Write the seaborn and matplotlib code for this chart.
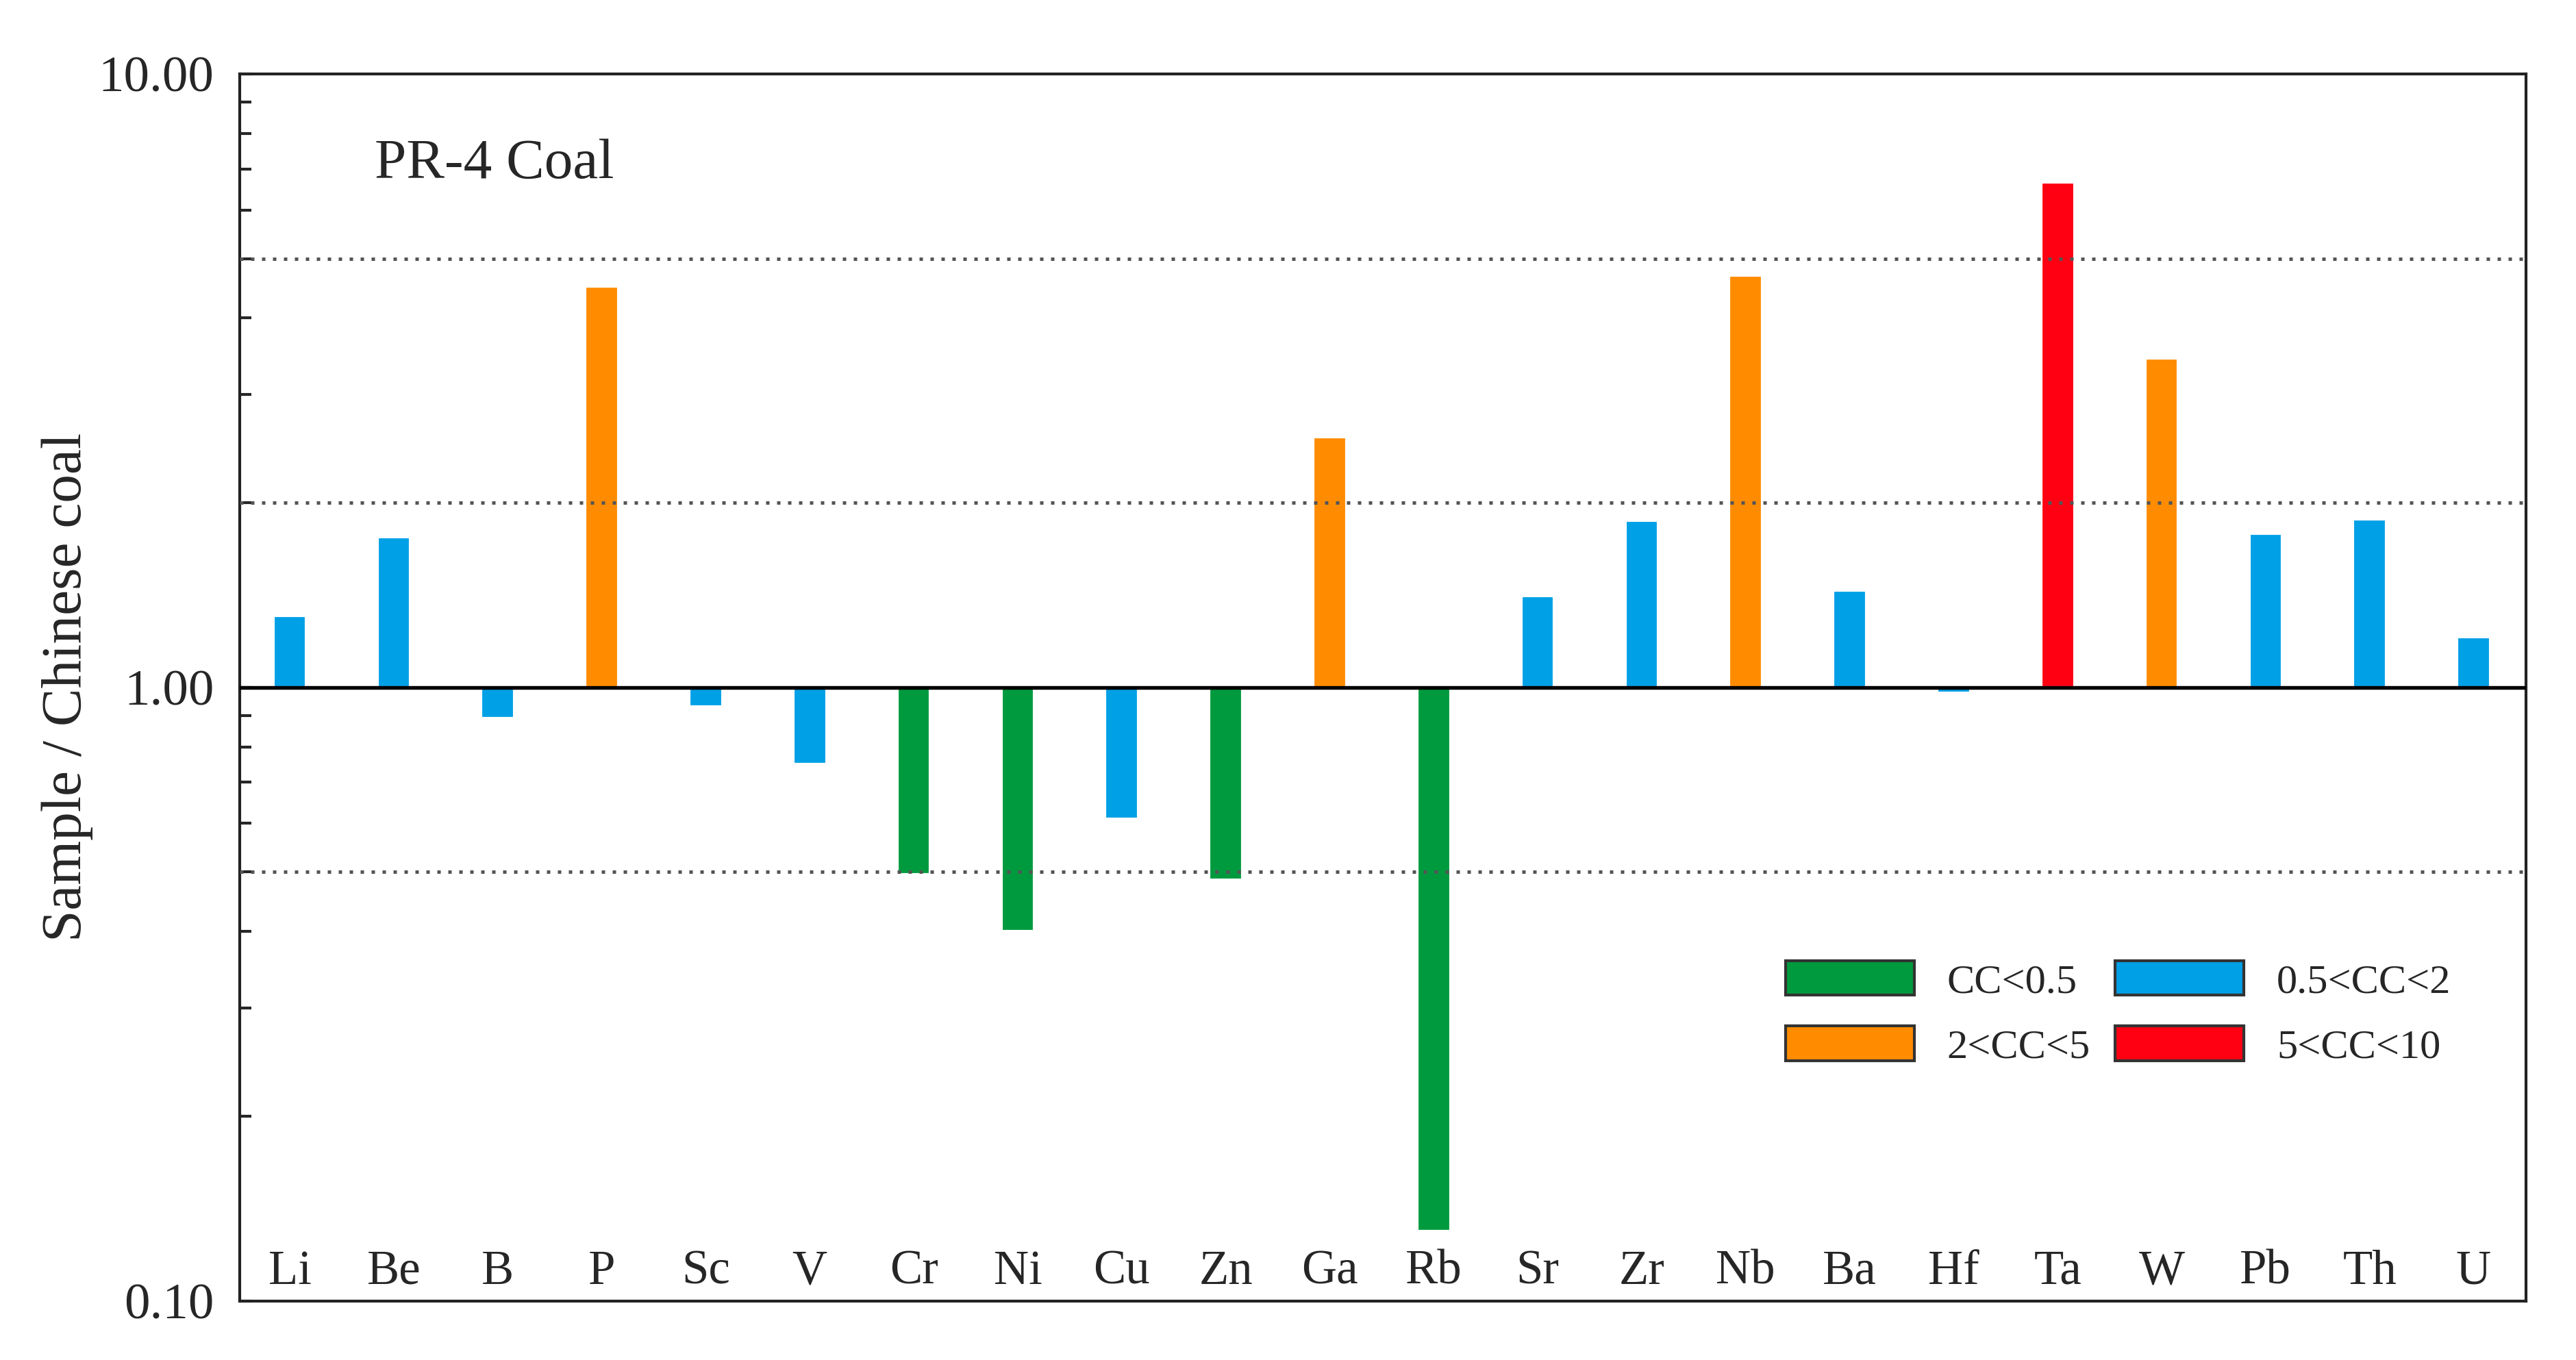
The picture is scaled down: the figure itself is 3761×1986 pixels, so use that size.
import numpy as np
import pandas as pd
import matplotlib
matplotlib.use("Agg")
import matplotlib.pyplot as plt
from matplotlib.patches import Patch
import seaborn as sns

# element / ratio (sample / Chinese coal)
elements = ['Li', 'Be', 'B', 'P', 'Sc', 'V', 'Cr', 'Ni', 'Cu', 'Zn', 'Ga',
            'Rb', 'Sr', 'Zr', 'Nb', 'Ba', 'Hf', 'Ta', 'W', 'Pb', 'Th', 'U']
ratios = [1.31, 1.76, 0.89, 4.51, 0.93, 0.75, 0.495, 0.40, 0.61, 0.485, 2.56,
          0.13, 1.41, 1.87, 4.69, 1.44, 0.98, 6.66, 3.44, 1.78, 1.88, 1.21]

class_labels = ['CC<0.5', '0.5<CC<2', '2<CC<5', '5<CC<10']
class_colors = ['#009A3E', '#00A0E6', '#FF8C00', '#FF0013']


def classify(v):
    if v < 0.5:
        return class_labels[0]
    elif v < 2:
        return class_labels[1]
    elif v < 5:
        return class_labels[2]
    return class_labels[3]


df = pd.DataFrame({'Element': elements, 'Ratio': ratios})
df['Class'] = df['Ratio'].apply(classify)
df['LogRatio'] = np.log10(df['Ratio'])  # bars hang from 1.00 on a log axis

sns.set_style('white')
plt.rcParams['font.family'] = ['Liberation Serif', 'DejaVu Serif']

fig = plt.figure(figsize=(12.54, 6.62), dpi=300)
ax = fig.add_axes([0.0931, 0.0435, 0.8871, 0.9022])

palette = dict(zip(class_labels, class_colors))
sns.barplot(data=df, x='Element', y='LogRatio', hue='Class', order=elements,
            hue_order=class_labels, palette=palette, dodge=False, width=0.32,
            saturation=1, legend=False, ax=ax, zorder=2)

# reference lines
ax.axhline(0, color='black', lw=1.3, zorder=3)
for lvl in [5, 2, 0.5]:
    ax.axhline(np.log10(lvl), color='#555555', lw=1.2, ls=(0, (1, 2.2)), zorder=4)

ax.set_ylim(-1, 1)
ax.set_xlim(-0.48, len(elements) - 0.5)

ax.set_yticks([-1, 0, 1])
ax.set_yticklabels(['0.10', '1.00', '10.00'], fontsize=18)
minor = [np.log10(m * d) for d in [0.1, 1] for m in range(2, 10)]
ax.set_yticks(minor, minor=True)
ax.tick_params(axis='y', which='both', direction='in', length=4, width=1,
               left=True, pad=9)
ax.tick_params(axis='x', length=0, pad=-18, labelsize=17)

ax.set_xlabel('')
ax.set_ylabel('Sample / Chinese coal', fontsize=20, labelpad=2)

for s in ax.spines.values():
    s.set_color('#222222')
    s.set_linewidth(1.0)

ax.text(0.059, 0.926, 'PR-4 Coal', transform=ax.transAxes, fontsize=20,
        va='center', ha='left')

handles = [Patch(facecolor=palette[c], edgecolor='#333333', linewidth=1.0, label=c)
           for c in [class_labels[0], class_labels[2], class_labels[1], class_labels[3]]]
ax.legend(handles=handles, ncol=2, loc='center left', bbox_to_anchor=(0.660, 0.234),
          frameon=False, fontsize=14.5, handlelength=3.1, handleheight=0.9,
          columnspacing=0.6, labelspacing=0.6, handletextpad=0.8)

fig.savefig('out.png', dpi=300)
